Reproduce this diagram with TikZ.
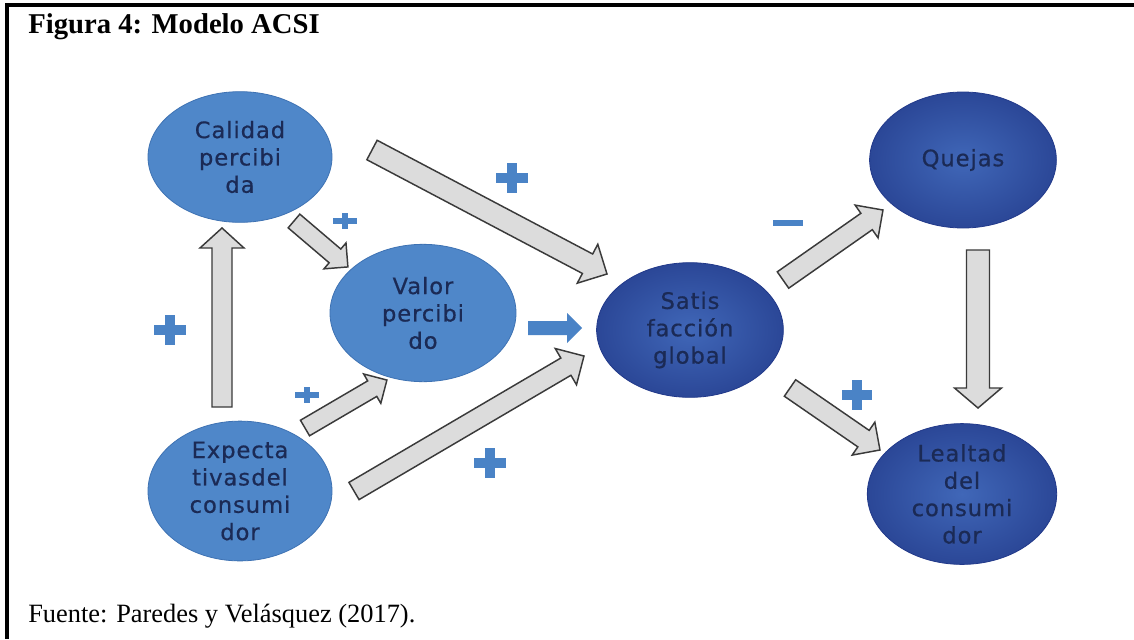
\documentclass[tikz,border=0pt]{standalone}
\usepackage{fontspec}
\setmainfont{Liberation Serif}
\newfontfamily\nodefont[LetterSpace=4,FakeBold=0.6]{DejaVu Sans}
\usetikzlibrary{shapes.geometric,calc}

\definecolor{lightblue}{HTML}{4F87C9}
\definecolor{lightedge}{HTML}{3E72B3}
\definecolor{darkin}{HTML}{4067B8}
\definecolor{darkout}{HTML}{2B4797}
\definecolor{darkedge}{HTML}{22398A}
\definecolor{labelink}{HTML}{1B2A55}
\definecolor{signblue}{HTML}{4A83C6}
\definecolor{arrowfill}{HTML}{DCDCDC}
\definecolor{arrowedge}{HTML}{3A3A3A}

\tikzset{
  concept/.style={ellipse, inner sep=0pt, align=center, text=labelink,
    font=\nodefont\fontsize{17}{20.5}\selectfont},
  lightconcept/.style={concept, fill=lightblue, draw=lightedge, line width=0.6pt},
  darkconcept/.style={concept, inner color=darkin, outer color=darkout,
    draw=darkedge, line width=0.6pt},
  grayarrow/.style={fill=arrowfill, draw=arrowedge, line width=1.1pt, line join=miter},
  bluearrow/.style={fill=signblue},
  pics/plusmark/.style args={#1/#2/#3}{code={
    \fill[signblue] (-#1,-#3) rectangle (#1,#3);
    \fill[signblue] (-#3,-#2) rectangle (#3,#2);}},
}

% Block arrow from coordinate #2 (tail) to #3 (tip);
% #4 half shaft width, #5 half head width, #6 head length (all in px units)
\newcommand\blockarrow[6]{%
  \pgfpointdiff{\pgfpointanchor{#2}{center}}{\pgfpointanchor{#3}{center}}%
  \pgfgetlastxy{\arrdx}{\arrdy}%
  \pgfmathsetmacro\arrang{atan2(\arrdy,\arrdx)}%
  \pgfmathsetlengthmacro\arrlen{veclen(\arrdx,\arrdy)}%
  \pgfmathsetlengthmacro\arrneck{\arrlen-#6*0.75pt}%
  \pgfmathsetlengthmacro\arrs{#4*0.75pt}%
  \pgfmathsetlengthmacro\arrw{#5*0.75pt}%
  \begin{scope}[shift={(#2)}, rotate=\arrang]
    \path[#1] (0pt,-\arrs) -- (\arrneck,-\arrs) -- (\arrneck,-\arrw) -- (\arrlen,0pt)
      -- (\arrneck,\arrw) -- (\arrneck,\arrs) -- (0pt,\arrs) -- cycle;
  \end{scope}}

\begin{document}
\begin{tikzpicture}[x=0.75pt, y=-0.75pt]
  \useasboundingbox (0,0) rectangle (1134,639);
  \fill[white] (0,0) rectangle (1134,639);

  % frame
  \draw[line width=2.6pt, line join=miter] (1134,5) -- (7,5) -- (7,639);

  % caption and source
  \node[anchor=base west, inner sep=0pt, font=\bfseries\fontsize{21.5}{24}\selectfont]
    (title) at (28,33) {Figura 4: Modelo ACSI};
  \node[anchor=base west, inner sep=0pt, font=\fontsize{19.8}{22}\selectfont]
    (source) at (28,622) {Fuente: Paredes y Velásquez (2017).};

  % concepts
  \node[lightconcept, minimum width=138pt, minimum height=98pt] (calidad) at (240,157)
    {Calidad\\percibi\\da};
  \node[lightconcept, minimum width=139.5pt, minimum height=103pt] (valor) at (423,313)
    {Valor\\percibi\\do};
  \node[lightconcept, minimum width=138pt, minimum height=103.5pt] (expect) at (240,491)
    {Expecta\\tivas\kern1pt del\\consumi\\dor};
  \node[darkconcept, minimum width=140pt, minimum height=101pt] (satis) at (690,330)
    {Satis\\facción\\global};
  \node[darkconcept, minimum width=140pt, minimum height=102pt] (quejas) at (963,160)
    {Quejas};
  \node[darkconcept, minimum width=142pt, minimum height=101pt] (lealtad) at (962,494)
    {Lealtad\\del\\consumi\\dor};

  % arrow end points
  \coordinate (calsatT) at (372,150);  \coordinate (calsatH) at (607,274);
  \coordinate (calvalT) at (294,221);  \coordinate (calvalH) at (348,267);
  \coordinate (expcalT) at (222,407);  \coordinate (expcalH) at (222,228);
  \coordinate (expvalT) at (305,428);  \coordinate (expvalH) at (387,380);
  \coordinate (expsatT) at (354,491);  \coordinate (expsatH) at (584,356);
  \coordinate (valsatT) at (528,328);  \coordinate (valsatH) at (582,328);
  \coordinate (satquT)  at (783,280);  \coordinate (satquH)  at (883,210);
  \coordinate (quleaT)  at (978,250);  \coordinate (quleaH)  at (978,408);
  \coordinate (satleT)  at (790,388);  \coordinate (satleH)  at (880,450);

  % arrows
  \blockarrow{grayarrow}{calsatT}{calsatH}{11}{22}{22}
  \blockarrow{grayarrow}{calvalT}{calvalH}{9}{17}{17}
  \blockarrow{grayarrow}{expcalT}{expcalH}{10}{22}{20}
  \blockarrow{grayarrow}{expvalT}{expvalH}{9}{17}{17}
  \blockarrow{grayarrow}{expsatT}{expsatH}{10}{21}{21}
  \blockarrow{bluearrow}{valsatT}{valsatH}{7}{15}{15}
  \blockarrow{grayarrow}{satquT}{satquH}{10}{20}{20}
  \blockarrow{grayarrow}{quleaT}{quleaH}{11.5}{23.5}{20}
  \blockarrow{grayarrow}{satleT}{satleH}{10}{20}{20}

  % signs
  \pic at (512,178) {plusmark=16/15/5};
  \pic at (170,330) {plusmark=16/15/5};
  \pic at (490,463) {plusmark=16/15/5};
  \pic at (857,395) {plusmark=15/15/5};
  \pic at (345,221) {plusmark=12/8/3};
  \pic at (307,395) {plusmark=12/8/3};
  \fill[signblue] (773,220) rectangle (803,226);
\end{tikzpicture}
\end{document}
